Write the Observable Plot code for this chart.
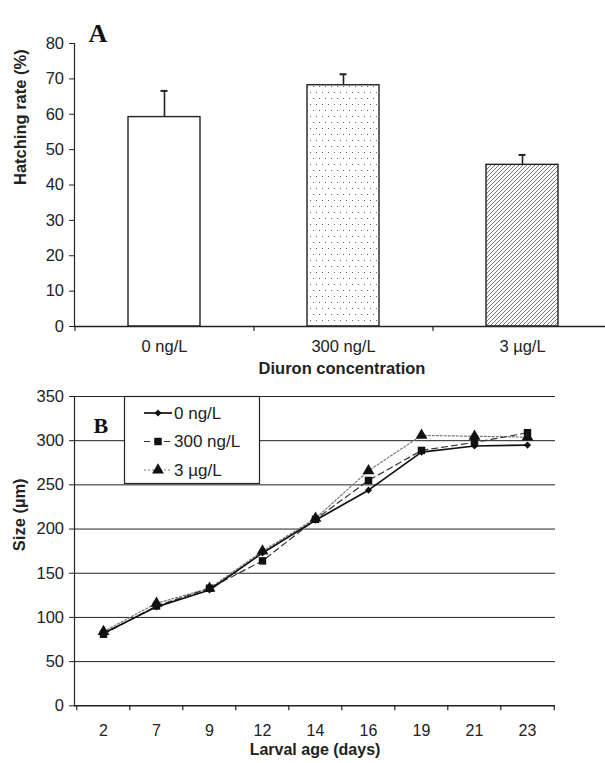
<!DOCTYPE html>
<html><head><meta charset="utf-8">
<script src="https://cdn.jsdelivr.net/npm/d3@7"></script>
<script src="https://cdn.jsdelivr.net/npm/@observablehq/plot@0.6"></script>
<style>
body{margin:0;background:#fff;}
#root{width:605px;height:763px;position:relative;overflow:hidden;}
#root svg{display:block;overflow:hidden;}
</style></head><body><div id="root"></div>
<script>
// ---------- data ----------
const concentrations = ["0 ng/L", "300 ng/L", "3 µg/L"];
const hatchMean = [59.2, 68.2, 45.7];
const hatchErr = [7.4, 3.1, 2.8];
const hatchTicks = [0, 10, 20, 30, 40, 50, 60, 70, 80];

const days = ["2", "7", "9", "12", "14", "16", "19", "21", "23"];
const size0 = [82, 112, 131, 173, 210, 244, 287, 294, 295];
const size300 = [81, 113, 133, 164, 211, 255, 289, 298, 309];
const size3 = [84, 116, 133, 175, 212, 266, 306, 305, 304];
const sizeTicks = [0, 50, 100, 150, 200, 250, 300, 350];

// ---------- styles ----------
const FONT = "'Liberation Sans', Arial, sans-serif";
const SERIF = "'Liberation Serif', 'DejaVu Serif', serif";
const INK = "#222";
const TICK_FS = 16.5, TITLE_FS = 16.5;
const root = document.getElementById("root");

// ---------- panel A ----------
const barData = concentrations.map((c, i) => ({conc: c, mean: hatchMean[i], top: hatchMean[i] + hatchErr[i]}));
const aLeft = 74, aRight = 611;
const aStep = (aRight - aLeft) / concentrations.length;

const A = Plot.plot({
  width: 605, height: 388,
  marginTop: 43, marginLeft: 74, marginRight: 0, marginBottom: 62,
  style: {fontFamily: FONT, fontSize: TICK_FS + "px", color: INK, background: "white"},
  x: {domain: concentrations, range: [aLeft, aRight], paddingInner: 0.6, paddingOuter: 0.3, label: null},
  y: {domain: [0, 80], label: null},
  color: {domain: concentrations, range: ["white", "url(#dots)", "url(#hatch)"]},
  marks: [
    Plot.barY(barData, {x: "conc", y: "mean", fill: "conc", stroke: INK, strokeWidth: 1.4}),
    Plot.ruleX(barData, {x: "conc", y1: "mean", y2: "top", stroke: INK, strokeWidth: 1.6}),
    Plot.tickY(barData, {x: "conc", y: "top", insetLeft: 32.5, insetRight: 32.5, stroke: INK, strokeWidth: 2}),
    Plot.frame({anchor: "left", stroke: INK, strokeWidth: 1.2}),
    Plot.ruleY([0], {stroke: INK, strokeWidth: 1.4}),
    Plot.ruleX(concentrations, {x: d => d, dx: -aStep / 2, y1: 0, y2: 0, insetBottom: -5, stroke: INK, strokeWidth: 1.2}),
    Plot.axisY(hatchTicks, {tickSize: 5, tickPadding: 5.5, fontSize: TICK_FS, stroke: INK, label: null}),
    Plot.axisX({tickSize: 0, tickPadding: 14, fontSize: TICK_FS, label: null}),
    Plot.text(["Hatching rate (%)"], {frameAnchor: "left", rotate: -90, dx: -54, fontWeight: "bold", fontSize: TITLE_FS, fill: INK}),
    Plot.text(["Diuron concentration"], {frameAnchor: "bottom", dx: 2, dy: 47, fontWeight: "bold", fontSize: TITLE_FS, fill: INK}),
    Plot.text(["A"], {frameAnchor: "top-left", dx: 14, dy: -20, fontWeight: "bold", fontSize: 26, fontFamily: SERIF, fill: "#111"})
  ]
});

// patterns for the bars
const defs = d3.select(A).insert("defs", ":first-child");
const dots = defs.append("pattern").attr("id", "dots").attr("patternUnits", "userSpaceOnUse").attr("width", 6).attr("height", 12);
dots.append("rect").attr("width", 6).attr("height", 12).attr("fill", "white");
dots.append("rect").attr("x", 1).attr("y", 2).attr("width", 1).attr("height", 1).attr("fill", "#666");
dots.append("rect").attr("x", 4).attr("y", 8).attr("width", 1).attr("height", 1).attr("fill", "#666");
const hatch = defs.append("pattern").attr("id", "hatch").attr("patternUnits", "userSpaceOnUse").attr("width", 4).attr("height", 4);
hatch.append("rect").attr("width", 4).attr("height", 4).attr("fill", "white");
hatch.append("path").attr("d", "M-1,1 l2,-2 M0,4 l4,-4 M3,5 l2,-2").attr("stroke", "#555").attr("stroke-width", 0.8);
root.appendChild(A);

// ---------- panel B ----------
const seriesValues = [size0, size300, size3];
const seriesStyle = [
  {stroke: "#111", width: 1.7, dash: null, symbol: "diamond2", r: 3.2},
  {stroke: "#333", width: 1.2, dash: "6,4", symbol: "square", r: 4.2},
  {stroke: "#777", width: 1.2, dash: "2,2", symbol: "triangle", r: 4.4}
];
const lineData = concentrations.flatMap((c, s) => days.map((d, i) => ({series: c, day: d, size: seriesValues[s][i]})));
const bLeft = 74, bRight = 555;
const bStep = (bRight - bLeft) / days.length;

const seriesMarks = [2, 1, 0].flatMap(s => {
  const st = seriesStyle[s];
  const data = lineData.filter(d => d.series === concentrations[s]);
  return [
    Plot.line(data, {x: "day", y: "size", stroke: st.stroke, strokeWidth: st.width, strokeDasharray: st.dash}),
    Plot.dot(data, {x: "day", y: "size", symbol: () => st.symbol, r: st.r, fill: "#111", stroke: "none"})
  ];
});

const B = Plot.plot({
  width: 605, height: 375,
  marginTop: 8, marginLeft: bLeft, marginRight: 605 - bRight, marginBottom: 57.7,
  style: {fontFamily: FONT, fontSize: "16px", color: INK, background: "white"},
  x: {type: "point", domain: days, padding: 0.5, label: null},
  y: {domain: [0, 350], label: null},
  symbol: {type: "identity"},
  marks: [
    Plot.ruleY(sizeTicks.filter(v => v > 0), {stroke: "#222", strokeWidth: 1}),
    Plot.frame({anchor: "left", stroke: INK, strokeWidth: 1.2}),
    Plot.ruleY([0], {stroke: INK, strokeWidth: 1.4}),
    Plot.ruleX(days, {x: d => d, dx: -bStep / 2, y1: 0, y2: 0, insetBottom: -5, stroke: INK, strokeWidth: 1.2}),
    Plot.ruleX(days.slice(-1), {x: d => d, dx: bStep / 2, y1: 0, y2: 0, insetBottom: -5, stroke: INK, strokeWidth: 1.2}),
    Plot.axisY(sizeTicks, {tickSize: 5, tickPadding: 5.5, fontSize: TICK_FS, stroke: INK, label: null}),
    Plot.axisX({tickSize: 0, tickPadding: 19, fontSize: 16, label: null}),
    ...seriesMarks,
    Plot.text(["Size (µm)"], {frameAnchor: "left", rotate: -90, dx: -55, fontWeight: "bold", fontSize: TITLE_FS, fill: INK}),
    Plot.text(["Larval age (days)"], {frameAnchor: "bottom", dy: 49, fontWeight: "bold", fontSize: 16, fill: INK}),
    Plot.text(["B"], {frameAnchor: "top-left", dx: 19, dy: 21, fontWeight: "bold", fontSize: 22, fontFamily: SERIF, fill: "#111"})
  ]
});

// legend box (inside plot B)
const lg = d3.select(B).append("g").attr("font-family", FONT).attr("font-size", 17)
  .attr("fill", INK).attr("text-anchor", "start");
lg.append("rect").attr("x", 124.5).attr("y", 8.5).attr("width", 135).attr("height", 87)
  .attr("fill", "white").attr("stroke", INK).attr("stroke-width", 1.2);
const symbolTypes = {diamond2: d3.symbolDiamond2, square: d3.symbolSquare, triangle: d3.symbolTriangle};
concentrations.forEach((c, s) => {
  const st = seriesStyle[s];
  const y = 25 + s * 28.5;
  lg.append("line").attr("x1", 144).attr("x2", 172).attr("y1", y).attr("y2", y)
    .attr("stroke", st.stroke).attr("stroke-width", st.width).attr("stroke-dasharray", st.dash);
  lg.append("path").attr("transform", `translate(158,${y})`)
    .attr("d", d3.symbol(symbolTypes[st.symbol], Math.PI * st.r * st.r)()).attr("fill", "#111");
  lg.append("text").attr("x", 174).attr("y", y).attr("dy", "0.35em").text(c);
});
root.appendChild(B);
</script>
</body></html>
